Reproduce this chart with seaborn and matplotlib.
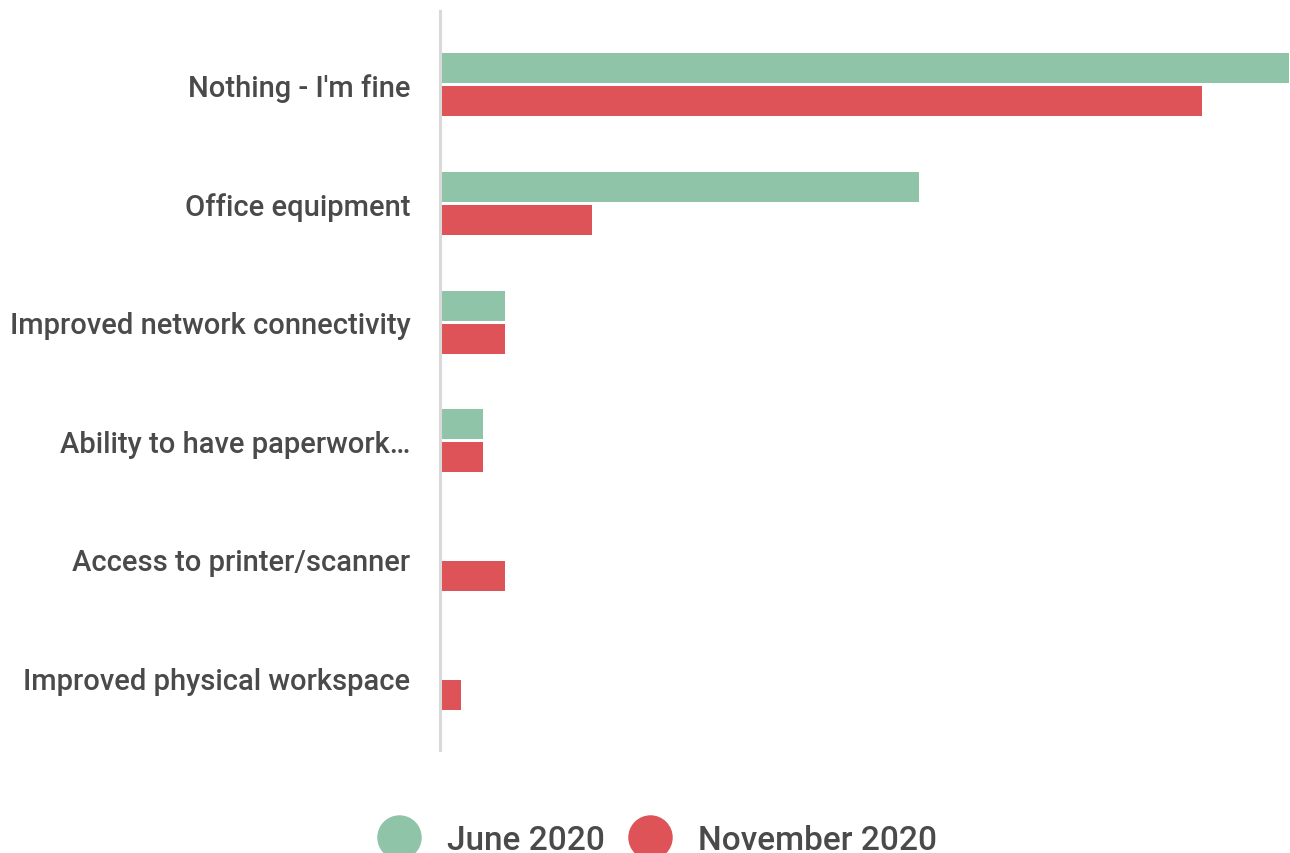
import matplotlib
matplotlib.use("Agg")
import matplotlib.pyplot as plt
from matplotlib.lines import Line2D
import seaborn as sns
import pandas as pd

categories = [
    "Nothing - I'm fine",
    "Office equipment",
    "Improved network connectivity",
    "Ability to have paperwork…",
    "Access to printer/scanner",
    "Improved physical workspace",
]
june_2020 = [39, 22, 3, 2, 0, 0]
november_2020 = [35, 7, 3, 2, 3, 1]
series_names = ["June 2020", "November 2020"]
series_colors = ["#8fc4a8", "#dd5357"]

df = pd.DataFrame({
    "category": categories * 2,
    "count": june_2020 + november_2020,
    "period": [series_names[0]] * len(categories) + [series_names[1]] * len(categories),
})

sns.set_theme(style="white")
plt.rcParams["font.family"] = ["Roboto", "DejaVu Sans"]
text_color = "#4a4a4a"

W, H = 1290, 854
fig = plt.figure(figsize=(W / 100, H / 100), dpi=100)
ax = fig.add_axes([439.5 / W, 1 - 750.7 / H, (W - 439.5) / W, (750.7 - 12) / H])

sns.barplot(
    data=df, y="category", x="count", hue="period", order=categories,
    hue_order=series_names, palette=series_colors, orient="h",
    width=0.556, gap=0.09, saturation=1, legend=False, linewidth=0, ax=ax,
)

ax.set_xlim(0, 39.05)
ax.set_ylim(5.604, -0.621)
ax.set_xlabel("")
ax.set_ylabel("")
ax.set_xticks([])
ax.tick_params(axis="y", length=0, pad=21, labelsize=21, labelcolor=text_color)
for lbl in ax.get_yticklabels():
    lbl.set_fontweight("medium")

for side in ["top", "right", "bottom"]:
    ax.spines[side].set_visible(False)
ax.spines["left"].set_color("#d9d9d9")
ax.spines["left"].set_linewidth(2.2)
ax.spines["left"].set_zorder(3)

handles = [
    Line2D([], [], linestyle="none", marker="o", markersize=31,
           markerfacecolor=c, markeredgecolor=c)
    for c in series_colors
]
fig.legend(
    handles, series_names, loc="center", bbox_to_anchor=(0.5115, 1 - 841 / H),
    ncol=2, frameon=False, prop={"size": 24, "weight": "medium"},
    labelcolor=text_color,
    handlelength=1.0, handletextpad=0.95, columnspacing=0.85,
)

fig.savefig("out.png", dpi=100)
